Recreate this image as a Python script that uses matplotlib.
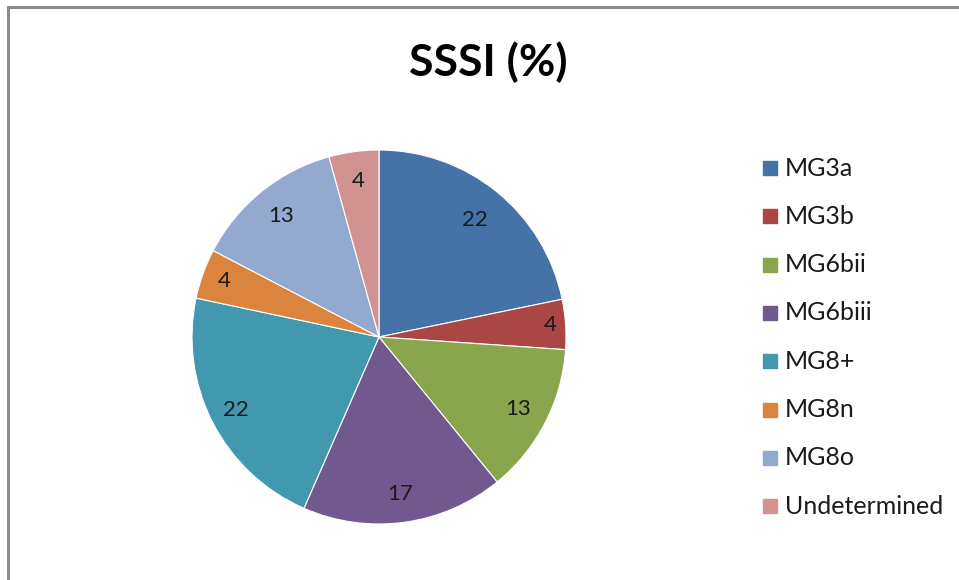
import matplotlib.pyplot as plt
import numpy as np

plt.rcParams['font.family'] = ['Lato', 'DejaVu Sans']

# data
categories = ['MG3a', 'MG3b', 'MG6bii', 'MG6biii', 'MG8+', 'MG8n', 'MG8o', 'Undetermined']
shares = [21.7, 4.3, 13.0, 17.4, 21.7, 4.3, 13.0, 4.3]   # slice sizes
labels = ['22', '4', '13', '17', '22', '4', '13', '4']     # labels as printed
colors = ['#4572A7', '#AA4643', '#89A54E', '#71588F', '#4198AF', '#DB843D', '#93A9CF', '#D19392']
label_dist = [0.81, 0.92, 0.84, 0.85, 0.86, 0.88, 0.83, 0.84]

fig = plt.figure(figsize=(9.59, 5.8), dpi=100)

# chart frame (only top and left edges visible)
fig.add_artist(plt.Line2D([8 / 959, 8 / 959], [0, 1 - 7 / 580], color='#8c8c8c', lw=2.2))
fig.add_artist(plt.Line2D([8 / 959, 1], [1 - 7 / 580, 1 - 7 / 580], color='#8c8c8c', lw=2.2))

fig.text(488 / 959, 1 - 62 / 580, 'SSSI (%)', ha='center', va='center',
         fontsize=32, fontweight='bold')

ax = fig.add_axes([192 / 959, 56 / 580, 374 / 959, 374 / 580])
wedges, _ = ax.pie(shares, colors=colors, startangle=90, counterclock=False,
                   wedgeprops=dict(edgecolor='white', linewidth=0.8))
ax.set_xlim(-1, 1)
ax.set_ylim(-1, 1)
ax.axis('off')

for w, lab, d in zip(wedges, labels, label_dist):
    ang = np.deg2rad((w.theta1 + w.theta2) / 2)
    ax.text(d * np.cos(ang), d * np.sin(ang), lab, ha='center', va='center',
            fontsize=16, color='#1a1a1a')

# legend
for i, (c, name) in enumerate(zip(colors, categories)):
    y = 1 - (168 + i * 48.3) / 580
    fig.patches.append(plt.Rectangle((763 / 959, y - 7 / 580), 14 / 959, 14 / 580,
                                     color=c, transform=fig.transFigure, figure=fig))
    fig.text(785 / 959, y, name, ha='left', va='center', fontsize=18, color='#1a1a1a')

fig.savefig('out.png', dpi=100)
